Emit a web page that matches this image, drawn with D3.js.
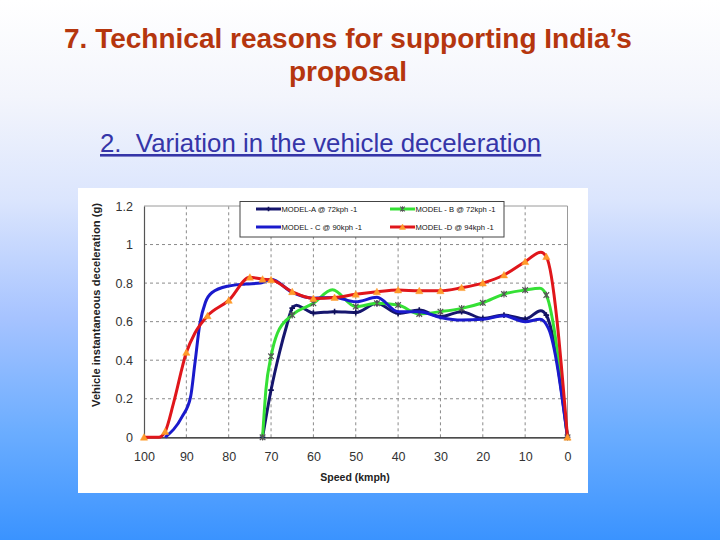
<!DOCTYPE html>
<html>
<head>
<meta charset="utf-8">
<script src="https://cdn.jsdelivr.net/npm/d3@7"></script>
<style>
  html, body { margin: 0; padding: 0; }
  svg { display: block; }
</style>
</head>
<body>
<svg id="chart" width="720" height="540"></svg>
<script>
// ---- Data (speed in kmph, deceleration in g) ----
const seriesNames = ["MODEL-A @ 72kph -1", "MODEL - B @ 72kph -1", "MODEL - C @ 90kph -1", "MODEL -D @ 94kph -1"];

const modelA = [[72,0],[70,0.245],[68,0.44],[66.3,0.58],[65,0.67],[64,0.685],[62,0.665],[60,0.645],[55,0.652],[50,0.647],[45,0.695],[40,0.643],[35,0.66],[30,0.626],[25,0.652],[20,0.617],[15,0.634],[10,0.614],[6.3,0.657],[5,0.634],[0,0]];
const modelB = [[72,0],[71.2,0.25],[70,0.42],[68.5,0.54],[65,0.634],[60,0.695],[55.5,0.765],[50,0.678],[45,0.695],[40,0.686],[35,0.64],[30,0.652],[25,0.669],[20,0.698],[15,0.743],[10,0.764],[6.5,0.773],[5,0.738],[0,0]];
const modelC = [[95,0],[91,0.107],[89,0.21],[88,0.38],[86.8,0.59],[85.5,0.7],[84,0.75],[80,0.785],[76,0.795],[72.5,0.8],[70,0.82],[65,0.752],[60,0.722],[55,0.725],[50,0.703],[45,0.726],[40,0.652],[35,0.652],[30,0.622],[25,0.608],[20,0.612],[15,0.63],[10,0.6],[6.5,0.612],[4.5,0.565],[0,0]];
const modelD = [[100,0],[96.5,0],[95,0.03],[93,0.18],[90,0.44],[88,0.54],[85,0.63],[80,0.71],[75,0.83],[72,0.82],[70,0.817],[65,0.755],[60,0.72],[55,0.725],[50,0.742],[45,0.755],[40,0.764],[35,0.76],[30,0.76],[25,0.776],[20,0.8],[15,0.842],[10,0.911],[6.3,0.96],[5,0.937],[0,0]];

const xTicks = [100,90,80,70,60,50,40,30,20,10,0];
const yTicks = [0,0.2,0.4,0.6,0.8,1,1.2];

// ---- Drawing ----
const svg = d3.select("#chart");
const defs = svg.append("defs");
const grad = defs.append("linearGradient").attr("id","bg").attr("x1",0).attr("y1",0).attr("x2",0).attr("y2",1);
[["0%","#ffffff"],["18%","#f3f5fc"],["37%","#dbe5fd"],["59%","#a6c3ff"],["80%","#6badff"],["100%","#3a93ff"]]
  .forEach(([o,c]) => grad.append("stop").attr("offset",o).attr("stop-color",c));
svg.append("rect").attr("width",720).attr("height",540).attr("fill","url(#bg)");

// Titles
svg.append("text").attr("x",348).attr("y",48).attr("text-anchor","middle")
  .attr("font-family","Liberation Sans, Arial, sans-serif").attr("font-weight","bold").attr("font-size",28)
  .attr("fill","#b5360e").text("7. Technical reasons for supporting India’s");
svg.append("text").attr("x",348).attr("y",81).attr("text-anchor","middle")
  .attr("font-family","Liberation Sans, Arial, sans-serif").attr("font-weight","bold").attr("font-size",28)
  .attr("fill","#b5360e").text("proposal");
svg.append("text").attr("x",100).attr("y",152)
  .attr("font-family","Liberation Sans, Arial, sans-serif").attr("font-size",25.8)
  .attr("fill","#3535a8").attr("text-decoration","underline")
  .style("white-space","pre").text("2.  Variation in the vehicle deceleration");

// Chart box
svg.append("rect").attr("x",78).attr("y",188).attr("width",510).attr("height",305).attr("fill","#ffffff");

const x = d3.scaleLinear().domain([100,0]).range([144,567.5]);
const y = d3.scaleLinear().domain([0,1.2]).range([437.3,206]);

const g = svg.append("g");
// gridlines
g.selectAll("line.vg").data(xTicks.filter(t => t !== 100 && t !== 0)).join("line")
  .attr("x1",d=>x(d)).attr("x2",d=>x(d)).attr("y1",y(0)).attr("y2",y(1.2))
  .attr("stroke","#8a8a8a").attr("stroke-width",1).attr("stroke-dasharray","3,3");
g.selectAll("line.hg").data(yTicks.filter(t => t !== 0 && t !== 1.2)).join("line")
  .attr("x1",x(100)).attr("x2",x(0)).attr("y1",d=>y(d)).attr("y2",d=>y(d))
  .attr("stroke","#8a8a8a").attr("stroke-width",1).attr("stroke-dasharray","3,3");
// plot frame
g.append("line").attr("x1",x(100)).attr("x2",x(0)).attr("y1",y(1.2)).attr("y2",y(1.2)).attr("stroke","#9a9a9a");
g.append("line").attr("x1",x(0)).attr("x2",x(0)).attr("y1",y(1.2)).attr("y2",y(0)).attr("stroke","#9a9a9a");

// axes (labels via d3 axis)
const yAxis = d3.axisLeft(y).tickValues(yTicks).tickSize(0).tickPadding(11).tickFormat(d3.format("~g"));
const yG = svg.append("g").attr("transform",`translate(${x(100)},0)`).call(yAxis);
yG.select(".domain").attr("stroke","#555").attr("stroke-width",1.2);
yG.selectAll("text").attr("font-family","Liberation Sans, Arial, sans-serif").attr("font-size",12.5).attr("fill","#333");

const xAxis = d3.axisBottom(x).tickValues(xTicks).tickSize(0).tickPadding(15).tickFormat(d3.format("d"));
const xG = svg.append("g").attr("transform",`translate(0,${y(0)})`).call(xAxis);
xG.select(".domain").attr("stroke","#111").attr("stroke-width",1.3);
xG.selectAll("text").attr("font-family","Liberation Sans, Arial, sans-serif").attr("font-size",12.5).attr("fill","#333");

// axis titles
svg.append("text").attr("transform","translate(100,305) rotate(-90)").attr("text-anchor","middle")
  .attr("font-family","Liberation Sans, Arial, sans-serif").attr("font-weight","bold").attr("font-size",11.2)
  .attr("fill","#222").text("Vehicle instantaneous deceleration (g)");
svg.append("text").attr("x",355).attr("y",481).attr("text-anchor","middle")
  .attr("font-family","Liberation Sans, Arial, sans-serif").attr("font-weight","bold").attr("font-size",10.5)
  .attr("fill","#222").text("Speed (kmph)");

// series
const series = [
  {name: seriesNames[0], data: modelA, color: "#16166e", marker: "plus"},
  {name: seriesNames[1], data: modelB, color: "#35e035", marker: "star"},
  {name: seriesNames[2], data: modelC, color: "#1a1acc", marker: null},
  {name: seriesNames[3], data: modelD, color: "#e0161b", marker: "tri"}
];
const line = d3.line().x(d=>x(d[0])).y(d=>y(d[1])).curve(d3.curveMonotoneX);
const isMarkerPt = d => Number.isInteger(d[0]) && (d[0] % 5 === 0 || d[0] === 72);

function drawMarker(sel, type, cx, cy, s) {
  if (type === "plus") {
    sel.append("path").attr("d",`M${cx-s},${cy}H${cx+s}M${cx},${cy-s}V${cy+s}`)
      .attr("stroke","#10105a").attr("stroke-width",1.6).attr("fill","none");
  } else if (type === "star") {
    sel.append("path").attr("d",`M${cx-s},${cy-s}L${cx+s},${cy+s}M${cx-s},${cy+s}L${cx+s},${cy-s}M${cx},${cy-s-0.5}V${cy+s+0.5}`)
      .attr("stroke","#555555").attr("stroke-width",1.2).attr("fill","none");
  } else if (type === "tri") {
    sel.append("path").attr("d",`M${cx},${cy-s}L${cx+s},${cy+s*0.8}L${cx-s},${cy+s*0.8}Z`)
      .attr("fill","#ff9a2a").attr("stroke","#ff9a2a").attr("stroke-width",0.5);
  }
}

const plotG = svg.append("g");
series.forEach(s => {
  const sorted = s.data.slice().sort((a,b) => a[0]-b[0]);
  plotG.append("path").datum(sorted).attr("d",line).attr("fill","none")
    .attr("stroke",s.color).attr("stroke-width",3).attr("stroke-linejoin","round");
  if (s.marker) {
    const mg = plotG.append("g");
    s.data.filter(isMarkerPt).forEach(d => drawMarker(mg, s.marker, x(d[0]), y(d[1]), s.marker==="tri"?3.6:2.8));
  }
});

// legend
const lg = svg.append("g");
lg.append("rect").attr("x",240).attr("y",201.5).attr("width",264).attr("height",35.5)
  .attr("fill","#ffffff").attr("stroke","#444").attr("stroke-width",1);
const legPos = [[256,209],[390,209],[256,227],[390,227]];
series.forEach((s,i) => {
  const [lx,ly] = legPos[i];
  lg.append("line").attr("x1",lx).attr("x2",lx+25).attr("y1",ly).attr("y2",ly)
    .attr("stroke",s.color).attr("stroke-width",3);
  if (s.marker) drawMarker(lg, s.marker, lx+12.5, ly, s.marker==="tri"?3:2.3);
  lg.append("text").attr("x",lx+25.5).attr("y",ly+3).attr("font-family","Liberation Sans, Arial, sans-serif")
    .attr("font-size",7.6).attr("fill","#111").text(s.name);
});
</script>
</body>
</html>
